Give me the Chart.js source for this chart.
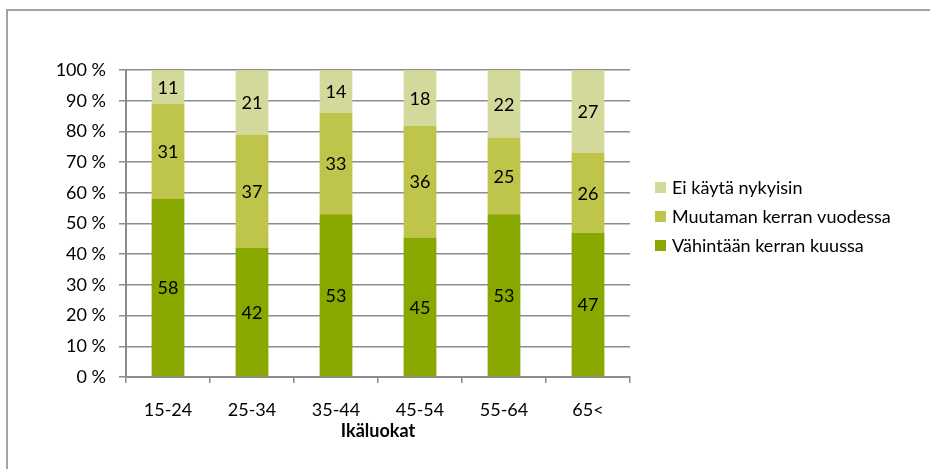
<!DOCTYPE html>
<html>
<head>
<meta charset="utf-8">
<script src="https://cdn.jsdelivr.net/npm/chart.js@4/dist/chart.umd.min.js"></script>
<style>
  body { margin: 0; background: #fff; }
  #wrap { position: relative; width: 930px; height: 469px; }
  #frame {
    position: absolute; left: 6px; top: 9px; right: 0; bottom: 0;
    border-left: 2px solid #a3a3a3; border-top: 2px solid #a3a3a3;
  }
  canvas { position: absolute; left: 0; top: 0; }
</style>
</head>
<body>
<div id="wrap">
  <div id="frame"></div>
  <canvas id="chart" width="930" height="469"></canvas>
</div>
<script>
const categories = ["15-24", "25-34", "35-44", "45-54", "55-64", "65<"];
const monthly = [58, 42, 53, 45, 53, 47];   // Vähintään kerran kuussa
const yearly = [31, 37, 33, 36, 25, 26];    // Muutaman kerran vuodessa
const notUsing = [11, 21, 14, 18, 22, 27];  // Ei käytä nykyisin
const yTicks = [0, 10, 20, 30, 40, 50, 60, 70, 80, 90, 100];

const FONT = "Lato, 'Open Sans', sans-serif";
const SIZE = 18;

// 100 % stacked: turn each value into its share of the column total
const totals = categories.map((_, i) => monthly[i] + yearly[i] + notUsing[i]);
const share = (arr) => arr.map((v, i) => v / totals[i] * 100);

const series = [
  { label: "Vähintään kerran kuussa", raw: monthly, color: "#88a800" },
  { label: "Muutaman kerran vuodessa", raw: yearly, color: "#bfc44b" },
  { label: "Ei käytä nykyisin", raw: notUsing, color: "#d2d99a" },
];

// value labels in the middle of each segment
const segmentLabels = {
  id: "segmentLabels",
  afterDatasetsDraw(chart) {
    const ctx = chart.ctx;
    ctx.save();
    ctx.font = SIZE + "px " + FONT;
    ctx.fillStyle = "#000";
    ctx.textAlign = "center";
    ctx.textBaseline = "middle";
    chart.data.datasets.forEach((ds, di) => {
      chart.getDatasetMeta(di).data.forEach((bar, i) => {
        ctx.fillText(String(ds.raw[i]), bar.x, (bar.y + bar.base) / 2 + 1);
      });
    });
    ctx.restore();
  }
};

// legend on the right, top item is the top segment
const sideLegend = {
  id: "sideLegend",
  afterDraw(chart) {
    const ctx = chart.ctx;
    ctx.save();
    ctx.font = SIZE + "px " + FONT;
    ctx.textBaseline = "middle";
    const rows = chart.data.datasets.slice().reverse();
    rows.forEach((ds, k) => {
      const y = 188 + k * 29;
      ctx.fillStyle = ds.backgroundColor;
      ctx.fillRect(655, y - 6, 11, 11);
      ctx.fillStyle = "#000";
      ctx.fillText(ds.label, 672, y);
    });
    ctx.restore();
  }
};

new Chart(document.getElementById("chart"), {
  type: "bar",
  data: {
    labels: categories,
    datasets: series.map((s) => ({
      label: s.label,
      data: share(s.raw),
      raw: s.raw,
      backgroundColor: s.color,
      borderWidth: 0,
      categoryPercentage: 1,
      barPercentage: 0.39,
    })),
  },
  options: {
    responsive: false,
    animation: false,
    devicePixelRatio: 1,
    layout: { padding: { left: 0, right: 300, top: 70, bottom: 27 } },
    plugins: {
      legend: { display: false },
      tooltip: { enabled: false },
    },
    scales: {
      x: {
        stacked: true,
        grid: {
          drawOnChartArea: false,
          color: "#8c8c8c",
          tickLength: 6,
          lineWidth: 1.5,
        },
        border: { color: "#8c8c8c", width: 2 },
        ticks: {
          color: "#000",
          font: { family: FONT, size: SIZE },
          padding: 16,
          maxRotation: 0,
        },
        title: {
          display: true,
          text: "Ikäluokat",
          color: "#000",
          font: { family: FONT, size: SIZE, weight: "bold" },
          padding: { top: 0, bottom: 0 },
        },
        afterFit(scale) { scale.height = 65; },
      },
      y: {
        stacked: true,
        min: 0,
        max: 100,
        afterBuildTicks(scale) { scale.ticks = yTicks.map((v) => ({ value: v })); },
        grid: {
          color: "#8c8c8c",
          lineWidth: 1.5,
          tickLength: 7,
        },
        border: { color: "#8c8c8c", width: 2 },
        ticks: {
          color: "#000",
          font: { family: FONT, size: SIZE },
          padding: 13,
          callback: (v) => v + " %",
        },
        afterFit(scale) { scale.width = 126; },
      },
    },
  },
  plugins: [segmentLabels, sideLegend],
});
</script>
</body>
</html>
